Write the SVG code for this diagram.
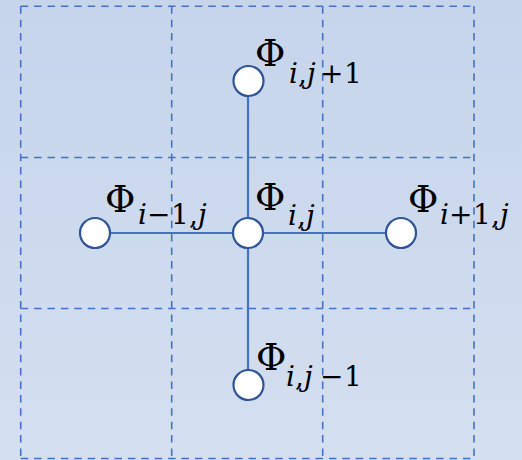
<svg xmlns="http://www.w3.org/2000/svg" width="522" height="460" viewBox="0 0 522 460">
<defs>
<linearGradient id="bg" x1="0" y1="0" x2="0" y2="1">
<stop offset="0" stop-color="#C6D5EC"/>
<stop offset="1" stop-color="#D4DFF0"/>
</linearGradient>
<style>
.grid{stroke:#4472C4;stroke-width:1.6;stroke-dasharray:7.5 5.9;fill:none}
.conn{stroke:#4472C4;stroke-width:2.2;fill:none}
.node{fill:#FFFFFF;stroke:#2F5597;stroke-width:2.2}
.phi{font-family:"DejaVu Serif","Liberation Serif",serif;font-size:37px;fill:#000}
.sub{font-family:"DejaVu Serif","Liberation Serif",serif;font-size:28px;fill:#000}
.it{font-style:italic}
</style>
</defs>
<rect x="0" y="0" width="522" height="460" fill="url(#bg)"/>
<g id="grid">
<path class="grid" d="M20.7 6.3H474M20.7 157.5H474M20.7 308.5H474M20.7 458.5H474"/>
<path class="grid" d="M20.7 6.3V460M171.7 6.3V460M322.7 6.3V460M474 6.3V460"/>
</g>
<g id="connectors">
<line class="conn" x1="248" y1="81" x2="248" y2="385"/>
<line class="conn" x1="95" y1="233" x2="401" y2="233"/>
</g>
<g id="node-top">
<circle class="node" cx="248.5" cy="81" r="15"/>
<text class="phi" x="255" y="66">Φ</text>
<text class="sub"><tspan class="it" x="289" y="83">i</tspan><tspan x="298" y="83">,</tspan><tspan class="it" x="307" y="83">j</tspan><tspan x="320" y="83">+</tspan><tspan x="344" y="83">1</tspan></text>
</g>
<g id="node-center">
<circle class="node" cx="248" cy="233" r="15"/>
<text class="phi" x="255" y="210">Φ</text>
<text class="sub"><tspan class="it" x="288" y="225">i</tspan><tspan x="297" y="225">,</tspan><tspan class="it" x="306" y="225">j</tspan></text>
</g>
<g id="node-left">
<circle class="node" cx="95" cy="233" r="15"/>
<text class="phi" x="105" y="212">Φ</text>
<text class="sub"><tspan class="it" x="138" y="224">i</tspan><tspan x="147" y="224">−</tspan><tspan x="171" y="224">1</tspan><tspan x="189" y="224">,</tspan><tspan class="it" x="198" y="224">j</tspan></text>
</g>
<g id="node-right">
<circle class="node" cx="401" cy="233" r="15"/>
<text class="phi" x="408" y="212">Φ</text>
<text class="sub"><tspan class="it" x="440" y="224">i</tspan><tspan x="449" y="224">+</tspan><tspan x="473" y="224">1</tspan><tspan x="491" y="224">,</tspan><tspan class="it" x="500" y="224">j</tspan></text>
</g>
<g id="node-bottom">
<circle class="node" cx="248.5" cy="385" r="15"/>
<text class="phi" x="256" y="370">Φ</text>
<text class="sub"><tspan class="it" x="286" y="386">i</tspan><tspan x="295" y="386">,</tspan><tspan class="it" x="304" y="386">j</tspan><tspan x="320" y="386">−</tspan><tspan x="344" y="386">1</tspan></text>
</g>
</svg>
